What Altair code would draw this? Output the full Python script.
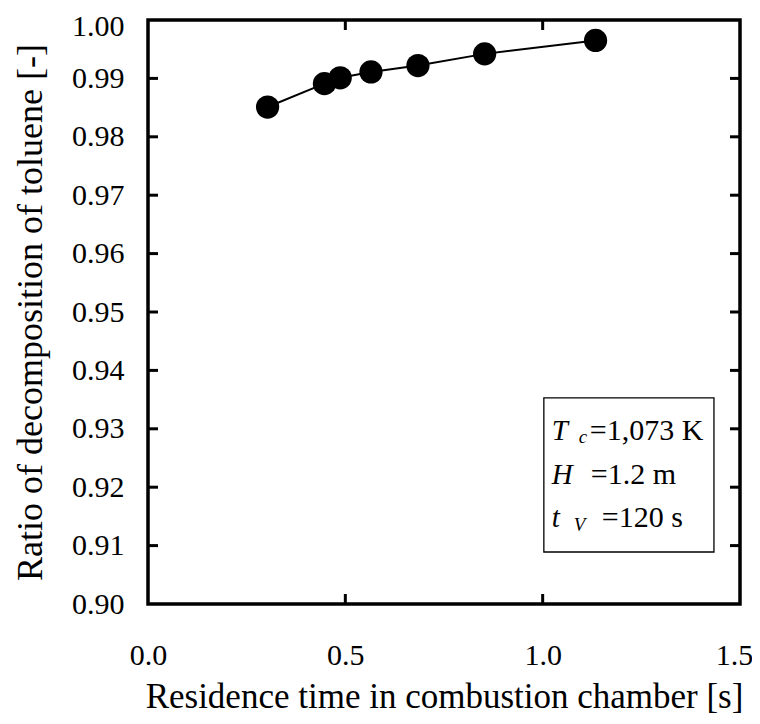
import altair as alt
import pandas as pd

# data
time_s = [0.303, 0.447, 0.487, 0.565, 0.684, 0.853, 1.134]
ratio = [0.9851, 0.9891, 0.9901, 0.9911, 0.9922, 0.9942, 0.9965]

y_ticks = [0.90, 0.91, 0.92, 0.93, 0.94, 0.95, 0.96, 0.97, 0.98, 0.99, 1.00]
x_ticks = [0.0, 0.5, 1.0, 1.5]

# annotation box (data coordinates)
box_x = [1.003]
box_x2 = [1.434]
box_y = [0.9353]
box_y2 = [0.9089]
line_y = [0.9280, 0.9206, 0.9132]
italic_txt = ["T", "H", "t"]
sub_txt = ["c", "", "V"]
rest_txt = ["=1,073 K", "=1.2 m", "=120 s"]

FONT = "Liberation Serif"
W, H = 592, 584
TL = 10  # inward tick length

df = pd.DataFrame({"t": time_s, "r": ratio})
xs = alt.Scale(domain=[0, 1.5], nice=False)
ys = alt.Scale(domain=[0.90, 1.00], nice=False)

base = alt.Chart(df)

line = base.mark_line(color="black", strokeWidth=2).encode(
    x=alt.X("t:Q", scale=xs,
            axis=alt.Axis(values=x_ticks, format=".1f", labelPadding=36, labelFlush=False,
                          labelOffset={"condition": {"test": "datum.value == 1.5", "value": -6},
                                       "value": 0},
                          title="Residence time in combustion chamber [s]", titlePadding=9,
                          titleFontSize=35)),
    y=alt.Y("r:Q", scale=ys,
            axis=alt.Axis(values=y_ticks, format=".2f", labelPadding=24, labelFlush=False,
                          labelOffset={"condition": {"test": "datum.value == 1", "value": 6},
                                       "value": 0},
                          title="Ratio of decomposition of toluene [-]", titlePadding=22,
                          titleFontSize=36)),
)
pts = base.mark_circle(color="black", opacity=1, size=540).encode(
    x=alt.X("t:Q", scale=xs), y=alt.Y("r:Q", scale=ys))

ydf = pd.DataFrame({"v": y_ticks[1:-1]})
xdf = pd.DataFrame({"v": x_ticks[1:-1]})
tl = alt.Chart(ydf).mark_rule(color="black", strokeWidth=3).encode(
    y=alt.Y("v:Q", scale=ys), x=alt.value(0), x2=alt.value(TL))
tr = alt.Chart(ydf).mark_rule(color="black", strokeWidth=3).encode(
    y=alt.Y("v:Q", scale=ys), x=alt.value(W - TL), x2=alt.value(W))
tb = alt.Chart(xdf).mark_rule(color="black", strokeWidth=3).encode(
    x=alt.X("v:Q", scale=xs), y=alt.value(H - TL), y2=alt.value(H))
tt = alt.Chart(xdf).mark_rule(color="black", strokeWidth=3).encode(
    x=alt.X("v:Q", scale=xs), y=alt.value(0), y2=alt.value(TL))

bdf = pd.DataFrame({"x": box_x, "x2": box_x2, "y": box_y, "y2": box_y2})
box = alt.Chart(bdf).mark_rect(fill="white", stroke="black", strokeWidth=1.3).encode(
    x=alt.X("x:Q", scale=xs), x2="x2:Q",
    y=alt.Y("y:Q", scale=ys), y2="y2:Q")

ann = pd.DataFrame({"x": box_x * 3, "y": line_y, "italic": italic_txt,
                    "sub": sub_txt, "rest": rest_txt})
sub_dx = [35, 0, 30]
sub_dy = [3, 0, 4]
rest_dx = [46, 47, 58]

it = alt.Chart(ann).mark_text(font=FONT, fontSize=29, fontStyle="italic", color="black",
                              align="left", baseline="alphabetic", dx=8).encode(
    x=alt.X("x:Q", scale=xs), y=alt.Y("y:Q", scale=ys), text="italic:N")
layers = [line, pts, tl, tr, tb, tt, box, it]
for i in range(3):
    row = ann.iloc[[i]]
    if sub_txt[i]:
        layers.append(alt.Chart(row).mark_text(font=FONT, fontSize=19, fontStyle="italic",
                                               color="black", align="left",
                                               baseline="alphabetic",
                                               dx=sub_dx[i], dy=sub_dy[i]).encode(
            x=alt.X("x:Q", scale=xs), y=alt.Y("y:Q", scale=ys), text="sub:N"))
    layers.append(alt.Chart(row).mark_text(font=FONT, fontSize=30, color="black",
                                           align="left", baseline="alphabetic",
                                           dx=rest_dx[i]).encode(
        x=alt.X("x:Q", scale=xs), y=alt.Y("y:Q", scale=ys), text="rest:N"))

chart = alt.layer(*layers).properties(
    width=W, height=H, background="white",
    autosize=alt.AutoSizeParams(type="none"),
    padding={"left": 140, "top": 12, "right": 12, "bottom": 112},
).configure_view(
    stroke="black", strokeWidth=3.5
).configure_axis(
    ticks=False, domain=False, grid=False,
    labelFont=FONT, labelFontSize=30, labelColor="black",
    titleFont=FONT, titleFontWeight="normal", titleColor="black",
)

chart.save("out.html", embed_options={"renderer": "svg", "actions": False})
